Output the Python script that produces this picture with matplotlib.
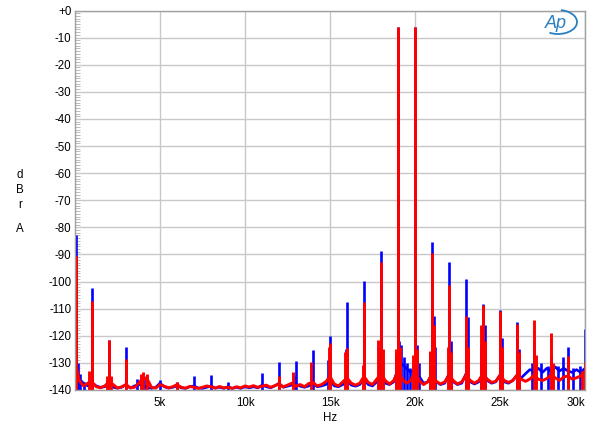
"""Twin-tone (19k + 20k) IMD spectrum, left (blue) and right (red) channels."""
import matplotlib
matplotlib.use('Agg')
import matplotlib.pyplot as plt
from matplotlib.patches import Arc
from matplotlib.ticker import MultipleLocator

plt.rcParams['font.family'] = ['Liberation Sans', 'DejaVu Sans']

# ─── Data ───
# noise floor, 250 Hz steps
FLOOR_FREQ = [0, 100] + list(range(250, 30001, 250))
BLUE_FLOOR_DB = [
    -128, -133,
    -136.0, -137.5, -138.5, -137.5, -138.5, -139.0, -138.8, -138.0,
    -139.0, -139.3, -139.0, -138.0, -139.3, -138.5, -138.0, -138.5,
    -139.0, -139.4, -139.0, -137.5, -138.8, -139.3, -139.0, -138.5,
    -139.2, -139.4, -138.8, -138.5, -139.3, -139.4, -139.0, -138.5,
    -139.3, -139.0, -139.4, -138.8, -139.4, -139.0, -139.4, -138.8,
    -139.2, -138.8, -139.2, -138.2, -138.8, -139.2, -138.5, -137.5,
    -139.0, -138.6, -138.2, -137.8, -138.6, -139.0, -138.5, -137.5,
    -138.8, -138.5, -138.0, -136.5, -138.5, -138.8, -138.0, -136.5,
    -138.2, -138.6, -138.0, -136.0, -138.0, -138.5, -137.0, -135.0,
    -137.5, -138.0, -137.0, -132.0, -130.5, -132.0, -133.5, -132.5,
    -135.0, -137.5, -137.0, -134.0, -137.0, -138.0, -137.5, -134.0,
    -137.0, -138.0, -137.5, -134.0, -137.0, -137.8, -137.0, -134.0,
    -136.5, -137.5, -137.0, -134.5, -137.0, -137.5, -136.5, -134.5,
    -135.5, -134.0, -132.5, -133.0, -132.0, -133.5, -132.0, -133.0,
    -131.5, -133.0, -132.0, -133.0, -133.5, -132.5, -133.5, -132.0,
]
RED_FLOOR_DB = [
    -125, -132,
    -136.5, -138.5, -137.5, -137.0, -138.8, -139.2, -138.5, -137.0,
    -138.0, -139.3, -138.8, -138.0, -139.2, -139.0, -137.5, -135.5,
    -136.0, -139.0, -139.3, -138.0, -138.6, -139.2, -138.8, -138.0,
    -139.0, -139.3, -138.7, -139.0, -139.4, -139.0, -138.5, -138.8,
    -139.3, -138.7, -139.2, -139.0, -139.4, -138.8, -139.2, -138.5,
    -138.9, -138.4, -139.0, -138.6, -138.2, -139.0, -138.4, -137.8,
    -138.8, -138.2, -137.5, -138.6, -138.0, -138.8, -137.6, -137.2,
    -138.5, -138.0, -137.0, -135.0, -137.8, -138.5, -137.0, -135.5,
    -137.5, -138.2, -137.5, -135.0, -137.2, -138.0, -136.0, -134.0,
    -136.5, -137.8, -136.5, -133.0, -136.0, -137.5, -136.5, -133.5,
    -136.5, -138.0, -137.0, -134.0, -136.8, -137.8, -137.0, -134.5,
    -136.5, -137.8, -137.0, -134.5, -136.5, -137.5, -136.5, -134.0,
    -136.0, -137.2, -136.8, -134.5, -136.5, -137.2, -136.5, -134.5,
    -136.0, -136.8, -136.0, -134.5, -136.0, -136.5, -135.8, -134.5,
    -135.5, -136.5, -135.2, -134.8, -136.0, -135.5, -134.8, -133.0,
]

# discrete spectral lines (Hz, dBrA)
BLUE_PEAK_FREQ = [30, 150, 1000, 2000, 3000, 3650, 4050, 5000, 6000, 7000, 8000, 9000,
                  11000, 12000, 13000, 14000, 15000, 16000, 17000, 18000, 19000, 20000,
                  21000, 22000, 23000, 24000, 25000, 26000, 27000, 28000, 29000, 30000]
BLUE_PEAK_DB = [-82.7, -130, -102.4, -121.4, -124.1, -136.1, -135, -136.4, -137, -135,
                -134.6, -137, -133.7, -129.7, -129.4, -125.3, -119.9, -107.7, -99.9, -88.6,
                -6.2, -6.2, -85.4, -92.8, -98.9, -108.3, -110.4, -114.8, -121.5, -127,
                -124.3, -117.6]

RED_PEAK_FREQ = [30, 1000, 2000, 3000, 4000, 4250, 6000, 12000, 12800, 13900, 15000, 16000,
                 17000, 18000, 19000, 20000, 21000, 22000, 23000, 24000, 25000, 26000,
                 27000, 28000, 29000, 30000]
RED_PEAK_DB = [-90.5, -107.3, -121.4, -128.5, -133.5, -134, -137, -135, -133.5, -129.6,
               -122.6, -124.5, -107.7, -92.6, -6.2, -6.2, -89.5, -101.1, -112.6, -108.7,
               -110.9, -115.7, -114.3, -119.0, -127.3, -129.7]

# smaller spurs / skirts around the main lines
BLUE_SPUR_FREQ = [300, 500, 12900, 14900, 15950, 17900, 18900, 19050, 19200, 19350, 19500,
                  19700, 20100, 20250, 20900, 21100, 21200, 22100, 23100, 23900, 24100,
                  25100, 26100, 26900, 27400, 27800, 28400, 28700, 29300, 29700]
BLUE_SPUR_DB = [-134, -137, -135, -129, -125, -124, -127, -122, -123.5, -128, -130,
                -132, -123.5, -130, -126, -112.7, -124, -122, -113, -123, -116,
                -121, -125, -130, -130, -131, -131, -128, -132, -131]

RED_SPUR_FREQ = [800, 1900, 2100, 3900, 14950, 15900, 16950, 17850, 18100, 18900, 19100,
                 19900, 20100, 20900, 21100, 21950, 22100, 23100, 23900, 24100, 25100,
                 26100, 27100, 28100, 29800]
RED_SPUR_DB = [-133, -135, -135, -134, -124, -126, -130.6, -121.4, -125, -125, -124,
               -127, -125, -125.7, -115.9, -124, -126, -124, -116, -122, -124,
               -126, -127, -130, -133]

X_TICKS = [5000, 10000, 15000, 20000, 25000, 30000]
X_LABELS = ['5k', '10k', '15k', '20k', '25k', '30k']
Y_TICKS = list(range(-140, 1, 10))
Y_LABELS = ['+0' if v == 0 else str(v) for v in Y_TICKS]


def draw_channel(ax, floor_db, peak_f, peak_db, spur_f, spur_db, color, lw):
    ax.plot(FLOOR_FREQ, floor_db, color=color, lw=lw)
    ax.vlines(spur_f, -140, spur_db, color=color, lw=lw)
    ax.vlines(peak_f, -140, peak_db, color=color, lw=lw)


fig = plt.figure(figsize=(6.0, 4.32), dpi=100)
ax = fig.add_axes([75 / 600, 1 - 390 / 432, 510 / 600, 379.5 / 432])

draw_channel(ax, BLUE_FLOOR_DB, BLUE_PEAK_FREQ, BLUE_PEAK_DB, BLUE_SPUR_FREQ, BLUE_SPUR_DB,
             '#0000ff', 1.9)
draw_channel(ax, RED_FLOOR_DB, RED_PEAK_FREQ, RED_PEAK_DB, RED_SPUR_FREQ, RED_SPUR_DB,
             '#ff0000', 2.1)

ax.set_xlim(0, 30000)
ax.set_ylim(-140, 0)
ax.set_xticks(X_TICKS, X_LABELS)
ax.set_yticks(Y_TICKS, Y_LABELS)
ax.xaxis.set_minor_locator(MultipleLocator(1000))
ax.yaxis.set_minor_locator(MultipleLocator(1))
ax.tick_params(axis='both', which='major', length=0, labelsize=8.3, colors='black')
ax.tick_params(axis='x', which='major', pad=5)
ax.tick_params(axis='y', which='major', pad=2.5)
ax.tick_params(axis='both', which='minor', direction='in', length=3.5, width=0.6,
               color='#b0b0b0')
ax.get_xticklabels()[-1].set_horizontalalignment('right')

ax.grid(True, which='major', color='#c8c8c8', lw=1.0)
ax.set_axisbelow(True)
for s in ax.spines.values():
    s.set_color('#a0a0a0')
    s.set_linewidth(1.0)

# axis labels as the analyser draws them
fig.text(330 / 600, 1 - 418 / 432, 'Hz', ha='center', va='center', fontsize=8.3)
for letter, ypx in [('d', 175), ('B', 190), ('r', 205), ('A', 229)]:
    fig.text(20 / 600, 1 - ypx / 432, letter, ha='center', va='center', fontsize=8.3)

# Ap logo
fig.text(556 / 600, 1 - 23 / 432, 'Ap', ha='center', va='center', fontsize=13,
         fontstyle='italic', color='#2a7fc0')
fig.add_artist(Arc((558 / 600, 1 - 22 / 432), 38 / 600, 24 / 432, theta1=-120, theta2=80,
                   transform=fig.transFigure, color='#2a7fc0', lw=1.3))

fig.savefig('out.png', dpi=100)
